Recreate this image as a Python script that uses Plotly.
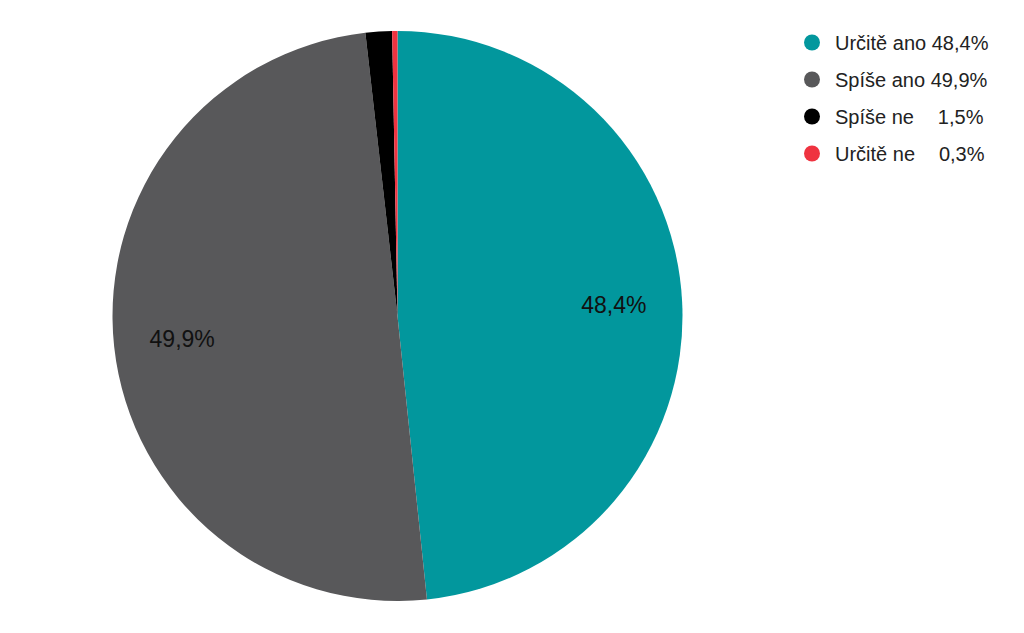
import plotly.graph_objects as go

categories = ["Určitě ano", "Spíše ano", "Spíše ne", "Určitě ne"]
values = [48.4, 49.9, 1.5, 0.3]
slice_labels = ["48,4%", "49,9%", "", ""]
legend_names = ["Určitě ano 48,4%", "Spíše ano 49,9%",
                "Spíše ne \u00a0\u00a0\u00a0\u200a1,5%", "Určitě ne \u00a0\u00a0\u00a0\u200a0,3%"]
colors = ["#02979D", "#58585A", "#000000", "#EF3340"]

FONT = "Liberation Sans, Arial, sans-serif"
DOMAIN = dict(x=[0.10205, 0.65869], y=[0.06319, 0.96367])

fig = go.Figure()
fig.add_trace(go.Pie(
    labels=categories,
    values=values,
    textinfo="none",
    marker=dict(colors=colors, line=dict(width=0)),
    sort=False,
    direction="clockwise",
    rotation=0,
    showlegend=False,
    hoverinfo="label+percent",
    domain=DOMAIN,
))
# transparent overlay ring used only to place the slice labels further out
fig.add_trace(go.Pie(
    labels=categories,
    values=values,
    text=slice_labels,
    textinfo="text",
    textposition="inside",
    insidetextorientation="horizontal",
    insidetextfont=dict(color="#111111", size=23, family=FONT),
    marker=dict(colors=["rgba(0,0,0,0)"] * 4, line=dict(width=0)),
    hole=0.52,
    sort=False,
    direction="clockwise",
    rotation=0,
    showlegend=False,
    hoverinfo="skip",
    domain=DOMAIN,
))

for name, col, cat in zip(legend_names, colors, categories):
    fig.add_trace(go.Scatter(
        x=[None], y=[None], mode="markers",
        marker=dict(color=col, size=16, symbol="circle"),
        name=name, legendgroup=cat, showlegend=True,
    ))

fig.update_layout(
    width=1024, height=633,
    margin=dict(l=0, r=0, t=0, b=0),
    paper_bgcolor="white", plot_bgcolor="white",
    font=dict(family=FONT, color="#222222"),
    xaxis=dict(visible=False), yaxis=dict(visible=False),
    legend=dict(
        x=781/1024, y=1 - 15/633, xanchor="left", yanchor="top",
        font=dict(size=20, family=FONT, color="#222222"),
        tracegroupgap=8,
        itemwidth=36,
        bgcolor="rgba(0,0,0,0)",
    ),
)

fig.write_html("out.html")
